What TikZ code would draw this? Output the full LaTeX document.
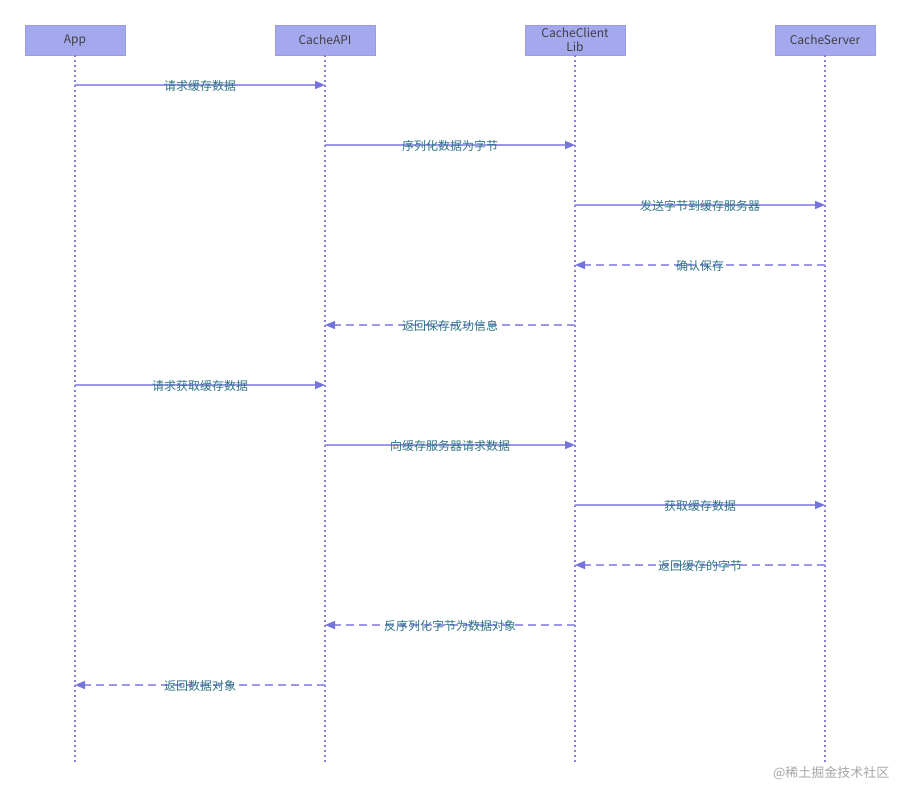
\documentclass[tikz,border=0pt]{standalone}
\usepackage{fontspec}
\setmainfont{Noto Sans CJK SC}
\usetikzlibrary{arrows.meta}
\definecolor{boxfill}{HTML}{A4A9EE}
\definecolor{boxdraw}{HTML}{9A9AE6}
\definecolor{life}{HTML}{8A7FD8}
\definecolor{msg}{HTML}{9C98E8}
\definecolor{tip}{HTML}{7474DC}
\definecolor{lbl}{HTML}{2F7283}
\tikzset{x=1pt,y=-1pt,
 actor/.style={draw=boxdraw,fill=boxfill,minimum width=100pt,minimum height=30pt,inner sep=0pt,font=\fontsize{12pt}{14pt}\selectfont,text=black!75,align=center},
 lifeline/.style={draw=life,line width=1.3pt,dash pattern=on 2pt off 3pt},
 call/.style={draw=msg,line width=1.4pt,-{Triangle[length=10pt,width=8pt,color=tip]}},
 reply/.style={call,dash pattern=on 8pt off 5pt},
 lab/.style={font=\fontsize{12pt}{13pt}\selectfont,text=lbl,inner sep=1pt}}
\begin{document}
\begin{tikzpicture}
\useasboundingbox (0,0) rectangle (900,790);
\foreach \n/\x/\t in {a/75/App,b/325/CacheAPI,c/575/{CacheClient\\Lib},d/825/CacheServer}{
  \node[actor] (\n) at (\x,40) {\t};
  \coordinate (\n e) at (\x,765);
  \draw[lifeline] (\n.south) -- (\n e);
  \foreach \k in {1,...,11}{\coordinate (\n\k) at (\x,25+60*\k);}
}
\foreach \s/\d/\k/\st/\t in {a/b/1/call/请求缓存数据,b/c/2/call/序列化数据为字节,c/d/3/call/发送字节到缓存服务器,d/c/4/reply/确认保存,c/b/5/reply/返回保存成功信息,a/b/6/call/请求获取缓存数据,b/c/7/call/向缓存服务器请求数据,c/d/8/call/获取缓存数据,d/c/9/reply/返回缓存的字节,c/b/10/reply/反序列化字节为数据对象,b/a/11/reply/返回数据对象}{
  \draw[\st] (\s\k) -- (\d\k) node[lab,midway,yshift=-1pt] (l\k) {\t};
}
\node[font=\fontsize{13pt}{14pt}\selectfont,text=black!35,anchor=east] (wm) at (893,773) {@稀土掘金技术社区};
\end{tikzpicture}
\end{document}
